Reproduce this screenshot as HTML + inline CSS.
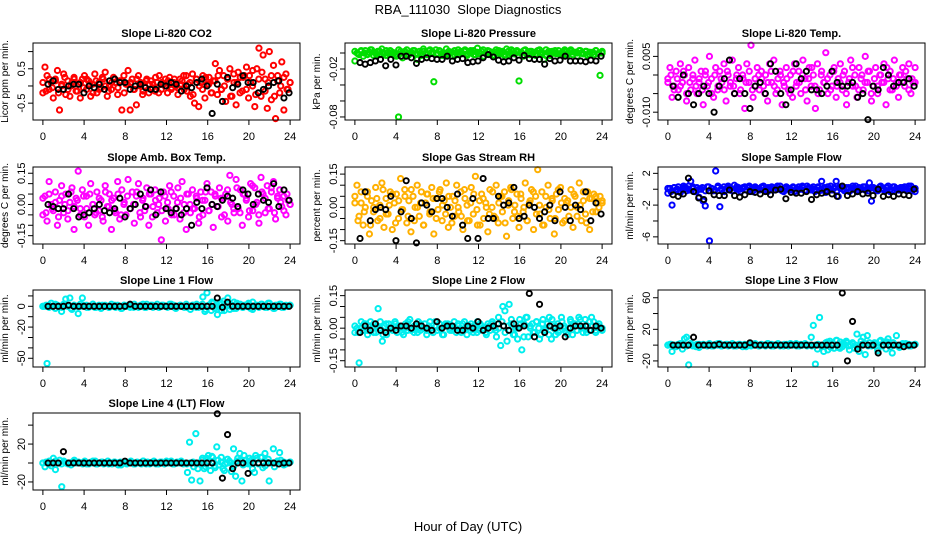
<!DOCTYPE html>
<html><head><meta charset="utf-8"><style>
body{margin:0;background:#fff}
svg{display:block;font-family:"Liberation Sans",Arial,sans-serif}
</style></head><body>
<svg id="chart" width="936" height="540" viewBox="0 0 936 540" xmlns="http://www.w3.org/2000/svg">
<rect width="936" height="540" fill="#fff"/>
<text x="468" y="14" font-size="13" text-anchor="middle" xml:space="preserve">RBA_111030  Slope Diagnostics</text>
<text x="468" y="531" font-size="13" text-anchor="middle">Hour of Day (UTC)</text>
<g id="panels"></g>
</svg>
<script>
const xTicks=[0,4,8,12,16,20,24];
const titles=["Slope Li-820 CO2","Slope Li-820 Pressure","Slope Li-820 Temp.","Slope Amb. Box Temp.","Slope Gas Stream RH","Slope Sample Flow","Slope Line 1 Flow","Slope Line 2 Flow","Slope Line 3 Flow","Slope Line 4 (LT) Flow"];
const ylabs=["Licor ppm per min.","kPa per min.","degrees C per min.","degrees C per min.","percent per min.","ml/min per min.","ml/min per min.","ml/min per min.","ml/min per min.","ml/min per min."];
const yRanges=[[-0.99,1.25],[-0.0838,0.0125],[-0.0121,0.0086],[-0.19,0.18],[-0.165,0.182],[-6.9,2.8],[-58.4,15.7],[-0.179,0.176],[-27.7,69.8],[-28.5,52.8]];
const yTicks=[[-0.5,0,0.5,1],[0,-0.02,-0.04,-0.06,-0.08],[0.005,0,-0.005,-0.01],[0.15,0.1,0.05,0,-0.05,-0.1,-0.15],[0.15,0.1,0.05,0,-0.05,-0.1,-0.15],[2,0,-2,-4,-6],[10,0,-10,-20,-30,-40,-50],[0.15,0.1,0.05,0,-0.05,-0.1,-0.15],[60,40,20,0,-20],[40,20,0,-20]];
const yTickLabels=[{"-0.5":"-0.5","0.5":"0.5"},{"-0.02":"-0.02","-0.08":"-0.08"},{"0.005":"0.005","-0.01":"-0.010"},{"0.15":"0.15","0":"0.00","-0.15":"-0.15"},{"0.15":"0.15","0":"0.00","-0.15":"-0.15"},{"2":"2","-2":"-2","-6":"-6"},{"0":"0","-20":"-20","-50":"-50"},{"0.15":"0.15","0":"0.00","-0.15":"-0.15"},{"60":"60","20":"20","-20":"-20"},{"20":"20","-20":"-20"}];
const colors=["#ff0000","#00dd00","#ff00ff","#ff00ff","#ffb000","#0000ff","#00eeee","#00eeee","#00eeee","#00eeee"];

const p1c=[-0.2,0.55,0.3,-0.1,0.1,-0.35,0.2,0.45,-0.7,0.0,0.35,-0.25,0.15,-0.3,0.1,0.25,-0.15,0.05,-0.35,0.2,0.3,-0.1,0.15,-0.3,0.05,0.35,-0.2,0.1,-0.05,0.2,0.4,-0.3,0.0,-0.1,0.25,0.1,-0.25,0.15,-0.7,0.3,0.05,0.45,-0.7,0.2,-0.1,-0.55,0.3,0.1,-0.25,0.0,0.2,-0.2,0.15,0.05,-0.15,0.1,0.3,-0.1,0.05,0.2,-0.2,0.25,-0.05,0.1,0.0,-0.25,0.2,0.15,-0.1,0.3,0.05,-0.3,0.35,-0.5,0.2,-0.6,0.1,0.3,-0.35,0.05,0.25,-0.2,0.15,0.65,-0.25,0.45,-0.1,0.3,-0.45,0.2,0.5,-0.3,0.1,-0.55,0.4,0.25,-0.15,0.3,0.55,-0.35,0.1,0.45,-0.6,0.5,1.1,-0.3,0.9,0.2,-0.65,1.0,-0.4,0.6,-0.95,0.3,-0.2,0.7,-0.7,0.35,-0.1,0.1];
const p1c2=[0.1,-0.15,0.2,-0.05,0.15,-0.2,0.05,0.25,-0.1,0.0,0.2,-0.15,0.1,-0.05,0.2,0.05,-0.2,0.15,-0.1,0.25,0.0,-0.15,0.1,0.2,-0.05,0.15,-0.2,0.05,0.1,-0.1,0.2,0.0,-0.15,0.15,0.05,-0.05,0.25,-0.2,0.1,0.0,0.15,-0.1,0.2,-0.05,0.05,0.3,-0.15,0.1,-0.25,0.2,0.0,-0.1,0.25,0.05,-0.2,0.15,0.3,-0.1,0.0,0.2,-0.3,0.35,0.1,-0.2,0.25,-0.1,0.3,0.0,-0.25,0.2,0.4,-0.15,0.1,0.3,-0.3,0.15,0.0,0.25,-0.1,0.1];
const p1k=[0.05,0.15,-0.1,-0.1,0.0,0.05,0.05,-0.2,0.0,-0.05,0.05,-0.1,0.15,0.2,0.1,0.1,-0.1,0.0,0.05,-0.05,-0.1,-0.1,0.05,0.0,0.1,0.05,-0.15,0.0,-0.05,0.1,0.2,0.0,-0.8,0.05,-0.45,0.25,-0.05,0.05,0.3,0.1,0.1,-0.2,-0.1,0.0,0.1,0.15,-0.35,-0.2];
const p2c=[-0.01,0.0,-0.002,0.002,-0.004,0.003,-0.001,0.001,0.004,-0.003,0.0,0.002,-0.002,0.005,-0.001,-0.003,0.001,0.003,-0.002,0.0,-0.004,-0.08,0.002,-0.006,0.001,0.004,-0.002,0.0,0.003,-0.001,-0.008,0.002,-0.003,0.005,0.0,-0.002,0.003,0.001,-0.036,0.004,-0.001,0.002,-0.003,0.0,0.005,-0.002,0.001,-0.004,0.003,0.0,-0.002,0.002,-0.001,0.004,-0.003,0.001,0.0,0.003,-0.002,0.006,-0.001,0.002,-0.004,0.0,0.003,-0.002,0.001,-0.003,0.004,0.0,-0.001,0.002,-0.003,0.005,-0.002,0.0,0.002,-0.001,0.003,-0.035,0.001,-0.004,0.004,0.0,-0.002,0.002,0.001,-0.003,0.003,0.0,-0.002,-0.008,0.004,0.001,-0.003,0.002,0.0,-0.001,0.003,-0.002,0.001,0.004,-0.003,0.0,0.002,-0.002,0.001,-0.004,0.003,0.0,-0.001,0.002,-0.003,0.001,0.0,-0.002,0.003,-0.001,-0.028,0.0];
const p2c2=[0.002,-0.001,0.003,0.0,-0.002,0.004,0.001,-0.003,0.002,0.0,0.003,-0.001,0.001,-0.002,0.004,0.0,0.002,-0.003,0.001,0.003,-0.001,0.0,0.002,-0.002,0.004,0.001,-0.001,0.003,0.0,-0.002,0.002,0.001,-0.003,0.004,0.0,0.002,-0.001,0.003,-0.002,0.001,0.0,0.004,-0.001,0.002,-0.003,0.001,0.003,0.0,-0.002,0.002,0.004,-0.001,0.001,0.0,0.003,-0.002,0.002,0.001,-0.001,0.004,0.0,-0.003,0.002,0.001,0.003,-0.001,0.0,0.002,-0.002,0.004,0.001,0.0,0.003,-0.001,0.002,-0.002,0.001,0.003,0.0,0.002];
const p2k=[-0.012,-0.014,-0.012,-0.01,-0.008,-0.016,-0.008,-0.015,-0.004,-0.004,-0.006,-0.013,-0.008,-0.006,-0.007,-0.008,-0.008,-0.004,-0.01,-0.008,-0.007,-0.012,-0.011,-0.01,-0.006,-0.002,-0.005,-0.009,-0.011,-0.01,-0.006,-0.009,-0.003,-0.007,-0.008,-0.008,-0.014,-0.007,-0.01,-0.009,-0.004,-0.01,-0.01,-0.01,-0.011,-0.009,-0.01,-0.004];
const p3c=[-0.001,0.002,-0.006,-0.003,0.001,-0.004,0.003,-0.002,0.0,-0.007,0.002,-0.004,-0.001,0.004,-0.005,-0.002,0.001,-0.008,0.0,-0.003,0.005,-0.001,-0.006,0.002,-0.004,0.001,-0.002,0.003,-0.007,0.0,-0.003,0.004,-0.005,-0.001,0.002,-0.004,0.0,-0.009,0.003,-0.002,0.008,-0.006,-0.001,0.002,-0.004,0.001,-0.003,0.0,-0.007,0.003,-0.002,0.004,-0.005,-0.001,0.001,-0.008,-0.003,0.002,-0.004,0.0,-0.006,0.003,-0.002,0.001,-0.005,0.004,-0.001,-0.007,0.002,-0.003,0.0,-0.009,0.003,-0.004,0.001,-0.002,0.006,-0.005,0.0,-0.003,0.002,-0.006,-0.001,0.003,-0.004,0.001,-0.008,-0.002,0.004,-0.003,0.0,-0.006,0.002,-0.001,-0.004,0.005,-0.002,0.001,-0.007,-0.003,0.002,-0.005,0.0,-0.002,0.003,-0.008,-0.001,0.001,-0.004,0.004,-0.002,-0.006,0.0,0.002,-0.003,-0.001,0.003,-0.005,-0.002,0.002];
const p3c2=[-0.002,0.0,-0.004,-0.001,-0.003,0.001,-0.005,-0.002,0.0,-0.003,-0.001,-0.004,0.001,-0.002,-0.005,0.0,-0.003,-0.001,-0.004,0.001,-0.002,-0.003,0.0,-0.005,-0.001,-0.002,0.001,-0.004,-0.003,0.0,-0.001,-0.005,-0.002,0.001,-0.003,-0.004,0.0,-0.002,-0.001,-0.005,0.001,-0.003,-0.002,0.0,-0.004,-0.001,0.002,-0.003,-0.005,0.0,-0.002,-0.001,-0.004,0.001,-0.003,-0.002,0.0,-0.005,-0.001,0.002,-0.003,-0.004,0.0,-0.002,0.001,-0.005,-0.001,-0.003,0.0,-0.002,0.002,-0.004,-0.001,-0.003,0.0,-0.002,0.001,-0.004,-0.001,-0.002];
const p3k=[-0.003,-0.006,0.0,-0.005,-0.008,-0.005,-0.003,-0.005,-0.01,-0.003,-0.001,0.004,-0.005,-0.001,-0.005,-0.009,-0.003,-0.002,-0.005,0.003,0.001,-0.005,-0.008,-0.004,0.003,-0.001,0.001,-0.004,-0.004,-0.005,-0.003,0.001,-0.002,-0.003,-0.003,-0.002,-0.006,-0.005,-0.012,-0.003,-0.004,0.002,0.0,-0.003,-0.002,-0.002,-0.001,-0.003];
const p4c=[-0.05,0.04,-0.08,0.11,0.0,-0.03,0.06,-0.1,0.02,0.09,-0.04,0.05,-0.07,0.01,0.08,-0.12,0.03,0.16,-0.02,0.07,-0.06,0.04,-0.1,0.1,0.0,-0.05,0.06,-0.03,0.02,-0.08,0.09,-0.01,0.05,-0.12,0.03,-0.04,0.11,-0.07,0.07,0.0,-0.05,0.12,-0.02,0.06,-0.09,0.04,0.1,-0.06,0.02,-0.03,0.08,-0.1,0.05,-0.01,0.07,-0.04,0.03,-0.17,0.06,-0.08,0.01,0.09,-0.05,0.04,-0.02,0.08,-0.07,0.11,0.0,-0.12,0.05,-0.04,0.07,-0.02,0.03,-0.09,0.06,-0.05,0.02,0.1,-0.03,0.06,-0.11,0.04,-0.01,0.08,-0.06,0.03,0.05,-0.08,0.14,0.0,-0.04,0.12,-0.02,0.07,-0.1,0.05,0.03,-0.06,0.1,-0.03,0.08,0.01,-0.09,0.13,0.05,-0.04,0.09,-0.02,0.06,0.11,-0.07,0.03,0.07,-0.01,0.04,-0.05,0.02,0.0];
const p4c2=[0.03,-0.04,0.05,-0.02,0.01,-0.06,0.04,0.0,-0.03,0.06,-0.01,0.02,-0.05,0.04,-0.02,0.05,0.0,-0.04,0.03,-0.06,0.06,-0.01,0.02,-0.03,0.05,-0.05,0.01,0.04,-0.02,0.0,0.06,-0.04,0.03,-0.01,0.05,-0.06,0.02,0.0,-0.03,0.04,-0.02,0.06,-0.05,0.01,0.03,-0.04,0.05,0.0,-0.02,0.04,-0.06,0.02,0.06,-0.03,0.0,0.05,-0.01,0.03,-0.05,0.07,0.01,-0.02,0.08,-0.04,0.05,0.02,-0.03,0.09,0.0,-0.05,0.06,0.03,-0.02,0.08,-0.04,0.04,0.01,-0.03,0.05,0.0];
const p4k=[0.0,-0.01,-0.02,-0.02,0.05,-0.02,-0.06,-0.05,-0.04,-0.02,0.0,-0.03,-0.04,-0.02,0.03,-0.06,-0.02,0.0,0.05,-0.01,0.07,-0.05,0.06,-0.02,-0.04,-0.02,-0.05,-0.02,-0.1,0.01,-0.02,0.08,0.0,-0.01,0.02,0.04,0.03,-0.01,0.07,0.05,0.0,0.05,0.02,0.01,0.1,-0.01,0.07,0.02];
const p5c=[0.02,0.1,-0.04,0.07,-0.08,0.0,0.05,-0.12,0.03,-0.02,0.09,-0.06,0.01,0.11,-0.09,0.04,-0.03,0.07,-0.1,0.02,0.06,-0.05,0.13,-0.01,0.08,-0.07,0.03,-0.11,0.05,0.0,0.1,-0.04,0.07,-0.08,0.02,0.06,-0.03,0.09,-0.12,0.04,-0.01,0.08,-0.06,0.03,0.11,-0.09,0.0,0.05,-0.04,0.1,-0.02,0.07,-0.1,0.04,0.01,-0.06,0.09,-0.03,0.14,-0.08,0.03,0.06,-0.05,0.02,-0.11,0.08,0.0,-0.04,0.1,-0.07,0.05,-0.02,0.07,-0.13,0.03,0.09,-0.05,0.01,0.06,-0.09,0.04,-0.02,0.11,-0.06,0.02,0.08,-0.1,0.05,0.17,-0.03,0.07,-0.08,0.0,0.1,-0.05,0.03,-0.12,0.06,-0.01,0.09,-0.07,0.04,0.02,-0.04,0.08,-0.09,0.05,0.0,0.11,-0.06,0.03,-0.03,0.07,-0.1,0.04,0.06,-0.02,0.02,0.05,0.03];
const p5c2=[0.05,-0.06,0.02,-0.02,0.07,-0.08,0.0,0.04,-0.05,0.08,-0.03,0.01,0.06,-0.07,0.03,-0.01,0.05,-0.04,0.08,-0.06,0.0,0.02,-0.08,0.06,-0.02,0.04,-0.05,0.07,0.01,-0.03,0.05,-0.07,0.03,0.0,-0.04,0.08,-0.06,0.02,0.06,-0.01,-0.08,0.04,0.0,-0.03,0.07,-0.05,0.02,0.05,-0.07,0.01,0.08,-0.02,-0.04,0.06,0.0,-0.06,0.03,0.07,-0.03,0.01,-0.08,0.05,-0.01,0.04,-0.05,0.08,0.02,-0.06,0.03,0.0,0.06,-0.04,0.01,0.07,-0.07,0.04,-0.02,0.05,0.0,0.02];
const p5k=[-0.14,0.07,-0.06,-0.01,0.0,-0.01,0.05,-0.15,-0.02,0.12,-0.05,-0.16,0.02,0.01,-0.02,0.04,0.04,0.0,-0.04,0.06,-0.08,-0.14,0.04,-0.14,0.13,-0.05,-0.05,0.05,0.01,0.02,0.09,-0.05,-0.04,0.01,0.0,-0.05,-0.02,0.01,-0.06,0.07,0.0,-0.06,0.01,-0.01,0.07,-0.06,0.02,-0.03];
const p6c=[-0.5,0.1,-2.0,0.2,-0.1,0.3,-0.4,0.0,0.2,-0.2,0.4,1.0,0.1,-0.3,0.2,-1.0,0.0,-1.5,-2.1,0.3,-6.5,0.1,-0.2,2.3,0.2,-2.2,0.0,0.3,-0.1,0.4,0.1,-0.2,0.5,0.0,0.2,-0.3,0.1,0.3,-0.1,0.2,0.0,-0.2,0.3,0.1,-0.1,0.2,0.4,0.0,-0.3,0.1,0.3,-0.1,0.2,0.0,0.4,-0.2,0.1,0.3,0.0,-0.1,0.2,-0.3,0.1,0.3,0.0,0.2,-0.2,0.4,0.1,-0.1,0.3,0.0,0.2,-0.2,1.0,0.1,-0.4,0.3,0.0,-0.1,0.2,1.0,-0.9,0.1,0.3,-0.2,0.0,0.2,-0.1,0.4,0.1,-0.3,0.2,0.0,0.3,-0.1,0.1,0.8,-1.5,0.2,0.0,-0.2,0.3,0.1,-0.1,0.2,0.4,0.0,-0.2,0.3,0.1,-0.1,0.2,0.0,0.3,-0.2,0.1,0.4,0.0,-0.3];
const p6c2=[0.1,-0.3,0.2,0.0,-0.2,0.4,0.1,-0.1,0.3,-0.3,0.0,0.2,-0.2,0.3,0.1,-0.1,0.4,0.0,-0.3,0.2,0.1,-0.2,0.3,0.0,0.2,-0.1,0.4,-0.3,0.1,0.0,0.3,-0.2,0.2,0.1,-0.1,0.4,0.0,-0.3,0.2,0.1,0.3,-0.2,0.0,0.4,-0.1,0.2,0.1,-0.3,0.3,0.0,0.2,-0.1,0.4,0.1,-0.2,0.3,0.0,0.2,-0.3,0.1,0.4,-0.1,0.0,0.3,-0.2,0.2,0.1,-0.1,0.4,0.0,0.2,-0.3,0.3,0.1,-0.1,0.2,0.0,0.4,-0.2,0.1];
const p6k=[-0.7,-0.9,-0.6,1.4,-0.3,-1.1,-1.3,-0.2,-0.7,-0.8,-0.8,-0.1,-0.8,-1.0,-0.7,-0.3,-0.4,-0.6,-0.3,-0.7,-0.1,0.0,-1.2,-0.4,-0.5,-0.5,-0.3,-1.3,-0.7,-0.5,-0.3,-0.6,-0.9,0.4,-0.8,-0.6,-0.3,-0.6,-0.5,-0.8,0.0,-0.9,-0.7,-0.9,-0.6,-0.7,-0.8,0.0];
const p7c=[0,0,-55,1,3,0,-2,1,0,-5,2,7,0,8,-3,1,0,-7,2,8,0,1,-1,0,2,-1,0,1,-2,0,1,0,-1,2,0,-1,1,0,-2,1,0,1,-1,0,2,0,-1,1,0,-1,2,0,1,-1,0,2,-1,0,1,0,-1,2,0,1,-2,0,1,0,-1,2,0,-3,1,0,2,-1,0,9,-5,13,1,-4,3,0,-8,2,-4,5,0,8,-3,1,4,-2,0,2,-1,1,0,3,-2,4,0,1,-1,2,0,1,-1,3,0,-2,1,0,2,-1,0,1,0,1];
const p7c2=[0,1,-1,0,2,0,-1,1,0,-2,1,0,0,1,-1,0,2,-1,0,1,0,-1,0,1,0,-2,1,0,1,-1,0,0,2,-1,0,1,0,-1,1,0,0,2,-1,0,1,0,-1,0,1,-1,0,2,-3,1,4,-2,0,3,-4,2,0,-2,3,1,-1,0,2,-3,1,0,2,-1,3,0,-2,1,2,-1,0,1];
const p7k=[0,0,0,0,1,0,0,0,0,0,0,0,0,0,0,0,2,0,0,0,0,0,0,0,0,0,0,0,0,0,0,0,0,8,-1,4,0,0,0,0,0,0,0,0,0,0,0,0];
const p8c=[-0.02,0.0,-0.16,0.03,-0.01,0.02,-0.03,0.01,0.0,0.02,-0.02,0.09,0.03,-0.06,0.01,-0.03,0.02,0.0,-0.01,0.03,-0.02,0.01,0.0,-0.03,0.02,-0.01,0.04,0.0,-0.02,0.01,0.03,-0.01,0.0,0.02,-0.03,0.01,0.0,-0.02,0.03,-0.01,0.02,0.0,-0.03,0.01,0.02,-0.01,0.0,0.03,-0.02,0.01,-0.01,0.02,0.0,-0.03,0.01,0.02,-0.02,0.0,0.03,-0.01,0.01,0.0,-0.02,0.02,-0.01,0.03,0.0,-0.04,0.05,-0.08,0.1,0.08,-0.06,0.11,0.02,-0.03,0.0,-0.05,0.04,-0.1,0.02,0.05,-0.04,0.0,0.02,-0.02,0.03,0.0,-0.03,0.04,-0.01,0.02,0.05,-0.05,0.0,-0.03,0.02,-0.01,0.03,0.01,-0.02,0.0,0.04,-0.03,0.02,-0.01,0.05,0.0,-0.02,0.04,0.01,-0.01,0.05,0.03,-0.02,0.01,0.0,-0.01];
const p8c2=[0.01,-0.02,0.0,0.02,-0.01,0.03,-0.02,0.01,0.0,-0.03,0.02,0.0,-0.01,0.02,0.01,-0.02,0.0,0.03,-0.01,0.01,-0.02,0.02,0.0,-0.01,0.03,-0.02,0.01,0.0,-0.03,0.02,0.01,-0.01,0.0,0.02,-0.02,0.03,0.0,-0.01,0.01,-0.02,0.02,0.0,-0.03,0.01,0.02,-0.01,0.0,0.03,-0.02,0.01,0.04,-0.03,0.0,0.02,-0.04,0.05,0.01,-0.02,0.03,-0.05,0.02,0.0,-0.03,0.04,0.01,-0.02,0.05,0.0,-0.03,0.03,0.02,-0.01,0.04,0.0,-0.02,0.03,0.01,-0.01,0.02,0.0];
const p8k=[-0.02,0.01,-0.01,0.02,-0.01,-0.02,0.0,-0.01,0.01,0.01,0.0,0.02,0.01,0.0,-0.01,0.03,0.0,0.01,0.01,-0.01,-0.01,0.01,0.0,0.03,-0.01,0.0,0.01,0.02,0.01,-0.01,0.02,0.0,0.01,0.16,-0.04,0.11,-0.02,0.01,0.0,0.01,-0.04,0.0,0.01,0.01,0.01,-0.01,0.01,0.0];
const p9c=[0,1,-8,0,-2,1,0,-5,8,10,-25,2,-1,0,1,-3,0,1,0,-1,2,0,-1,1,0,2,-1,0,1,-1,0,2,0,-1,1,0,-2,1,0,1,-1,0,2,0,-1,1,0,-1,2,0,1,-1,0,2,-1,0,1,0,-1,2,0,1,-1,0,1,0,2,-1,0,10,25,-24,-5,35,-2,-8,3,-6,5,2,-4,6,-3,4,-2,1,3,-1,0,2,-4,14,-8,5,10,-12,12,3,-1,0,2,-7,5,-1,4,-5,8,1,-10,0,12,-1,0,2,1,0,1,-1,0,1];
const p9c2=[0,1,-1,0,2,0,-1,1,0,-2,1,0,0,1,-1,0,2,-1,0,1,0,-1,0,1,0,-2,1,0,1,-1,0,0,2,-1,0,1,0,-1,1,0,0,2,-1,0,1,0,-1,0,1,-1,0,4,-3,1,6,-4,2,5,-6,3,0,-2,1,2,-1,0,3,-4,6,0,4,-2,3,0,-3,1,2,-1,0,1];
const p9k=[0,0,0,0,10,0,0,0,0,1,0,0,0,0,0,3,0,0,0,0,0,0,0,0,0,0,0,0,0,0,0,0,0,66,-20,30,-5,0,0,0,-10,0,0,0,0,-2,0,0];
const p10c=[0,-4,0,2,-3,5,-7,0,3,-25,2,0,-1,0,1,3,0,1,0,-1,2,0,-1,1,0,2,-1,0,1,-1,0,2,0,-1,1,0,-2,1,0,1,-1,0,2,0,-1,1,0,-1,2,0,1,-1,0,2,-1,0,1,0,-1,2,0,1,-1,0,1,0,2,-1,0,-10,22,-18,-4,31,-6,-19,3,-6,5,8,-8,6,-3,17,-2,1,-6,-1,0,2,-9,15,-14,5,10,-19,8,3,-1,0,4,-10,5,-1,6,-5,10,1,-19,0,15,0,2,11,0,1,-1,0,1];
const p10c2=[0,1,-1,0,2,0,-1,1,0,-2,1,0,0,1,-1,0,2,-1,0,1,0,-1,0,1,0,-2,1,0,1,-1,0,0,2,-1,0,1,0,-1,1,0,0,2,-1,0,1,0,-1,0,1,-1,0,5,-4,2,7,-5,3,6,-8,4,0,-3,2,3,-2,0,5,-6,8,0,6,-3,4,0,-4,2,3,-2,0,1];
const p10k=[0,0,0,12,0,0,0,0,0,0,0,0,0,0,0,2,0,0,0,0,0,0,0,0,0,0,0,0,0,0,0,0,0,52,-16,30,-6,0,0,-11,0,0,0,0,0,-1,0,0];
const colorSeries=[p1c,p2c,p3c,p4c,p5c,p6c,p7c,p8c,p9c,p10c];
const colorSeries2=[p1c2,p2c2,p3c2,p4c2,p5c2,p6c2,p7c2,p8c2,p9c2,p10c2];
const blackSeries=[p1k,p2k,p3k,p4k,p5k,p6k,p7k,p8k,p9k,p10k];

const NS="http://www.w3.org/2000/svg";
const root=document.getElementById('panels');
const lefts=[33,345,658], tops=[43,167,290,413], W=267, H=77;
function mk(tag,attrs,parent){const e=document.createElementNS(NS,tag);for(const k in attrs)e.setAttribute(k,attrs[k]);parent.appendChild(e);return e;}
for(let p=0;p<10;p++){
  const L=lefts[p%3], T=tops[Math.floor(p/3)];
  const g=mk('g',{},root);
  
  
  const [y0,y1]=yRanges[p];
  const xs=v=>L+(v+0.96)/25.92*W;
  const ys=v=>T+H-(v-y0)/(y1-y0)*H;
  const t=mk('text',{x:L+W/2,y:T-6,'font-size':11,'font-weight':'bold','text-anchor':'middle'},g);
  t.textContent=titles[p];
  
  
  const yl=mk('text',{x:0,y:0,'font-size':10,'text-anchor':'middle',transform:`translate(${L-25},${T+H/2}) rotate(-90)`},g);
  yl.textContent=ylabs[p];
  
  
  const pts=mk('g',{fill:'none',stroke:colors[p],'stroke-width':2},g);
  
  
  [colorSeries2[p],colorSeries[p]].forEach(cs=>{
    const n=cs.length;
    cs.forEach((v,i)=>{const c=mk('circle',{cx:xs(i*24/(n-1)),cy:ys(v),r:2.6},pts);
      
      });
  });
  const ks=blackSeries[p], m=ks.length;
  const kp=mk('g',{fill:'none',stroke:'#000','stroke-width':1.9},g);
  
  
  ks.forEach((v,i)=>{const c=mk('circle',{cx:xs(0.5+i*23.4/(m-1)),cy:ys(v),r:2.6},kp);
    
    });
  const box=mk('rect',{x:L,y:T,width:W,height:H,fill:'none',stroke:'#000','stroke-width':1},g);
  
  
  const xa=mk('g',{},g);
  
  
  mk('line',{x1:xs(0),x2:xs(24),y1:T+H,y2:T+H,stroke:'#000'},xa);
  xTicks.forEach(v=>{mk('line',{x1:xs(v),x2:xs(v),y1:T+H,y2:T+H+5,stroke:'#000'},xa);
    const tl=mk('text',{x:xs(v),y:T+H+20,'font-size':11,'text-anchor':'middle'},xa);tl.textContent=v;
    
    });
  const ya=mk('g',{},g);
  
  
  const tk=yTicks[p];
  mk('line',{x1:L,x2:L,y1:ys(Math.min(...tk)),y2:ys(Math.max(...tk)),stroke:'#000'},ya);
  tk.forEach(v=>{mk('line',{x1:L-5,x2:L,y1:ys(v),y2:ys(v),stroke:'#000'},ya);
    const lab=yTickLabels[p][String(v)];
    if(lab!==undefined){const tl=mk('text',{x:0,y:0,'font-size':11,'text-anchor':'middle',transform:`translate(${L-8},${ys(v)}) rotate(-90)`},ya);tl.textContent=lab;
      
      }
  });
}
</script>
</body></html>
